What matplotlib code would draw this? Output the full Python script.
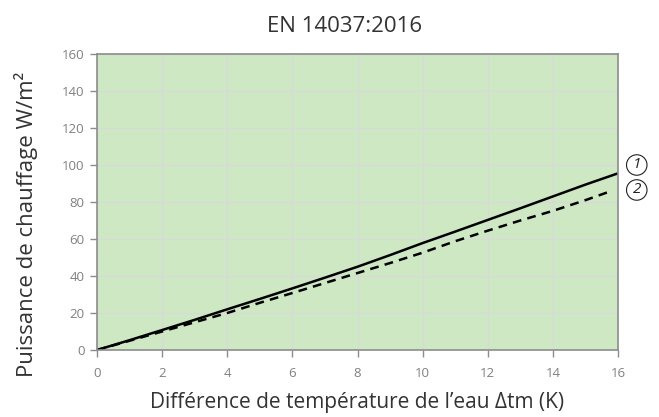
import matplotlib
matplotlib.use("Agg")
import matplotlib.pyplot as plt

# Data
x1 = [0, 1, 2, 3, 4, 5, 6, 7, 8, 9, 10, 11, 12, 13, 14, 15, 16]
y1 = [0, 5.3, 10.8, 16.3, 22.0, 27.6, 33.3, 39.1, 45.0, 51.3, 57.8, 64.0, 70.3, 76.6, 83.0, 89.4, 95.5]
x2 = [0, 1, 2, 3, 4, 5, 6, 7, 8, 9, 10, 11, 12, 13, 14, 15, 15.8]
y2 = [0, 5.0, 10.0, 15.0, 20.0, 25.5, 30.8, 36.2, 41.6, 47.0, 52.6, 58.8, 64.5, 70.0, 75.2, 81.0, 86.0]
xticks = [0, 2, 4, 6, 8, 10, 12, 14, 16]
yticks = [0, 20, 40, 60, 80, 100, 120, 140, 160]
title = "EN 14037:2016"
xlabel = "Différence de température de l\u2019eau \u0394tm (K)"
ylabel = "Puissance de chauffage W/m\u00b2"
curve_labels = ["1", "2"]

plt.rcParams['font.family'] = ['Open Sans', 'DejaVu Sans']

W, H = 659, 417
fig = plt.figure(figsize=(W/100, H/100), dpi=100)
ax = fig.add_axes([97/W, 1 - 350/H, (618-97)/W, (350-54)/H])
ax.set_facecolor('#cde8c3')
ax.set_xlim(0, 16)
ax.set_ylim(0, 160)
ax.set_xticks(xticks)
ax.set_yticks(yticks)
ax.grid(True, color='#d9d9d9', linewidth=1.0)
ax.set_axisbelow(True)
for s in ax.spines.values():
    s.set_color('#8c8c8c')
    s.set_linewidth(1.2)
ax.tick_params(axis='both', colors='#8c8c8c', labelcolor='#808080', labelsize=9.5, length=5, width=1)
ax.tick_params(axis='x', pad=7)
ax.tick_params(axis='y', pad=4)

ax.plot(x1, y1, color='black', linewidth=1.8, solid_capstyle='butt')
ax.plot(x2, y2, color='black', linewidth=1.8, linestyle=(0, (3.5, 2.5)))

fig.text(345/W, 1 - 26/H, title, fontsize=16, color='#333333', ha='center', va='center')
ax.set_xlabel(xlabel, fontsize=15, color='#333333', labelpad=9)
fig.text(26/W, 1 - 224/H, ylabel, fontsize=16, color='#333333', ha='center', va='center',
         rotation=90)

label_y = [100, 86.5]
for lab, yy in zip(curve_labels, label_y):
    ax.text(1.036, yy, lab, transform=ax.get_yaxis_transform(), fontsize=11, style='italic',
            ha='center', va='center', color='#222222',
            bbox=dict(boxstyle='circle,pad=0.18', fc='white', ec='#222222', lw=0.8),
            clip_on=False)

fig.savefig('out.png', dpi=100, facecolor='white')
